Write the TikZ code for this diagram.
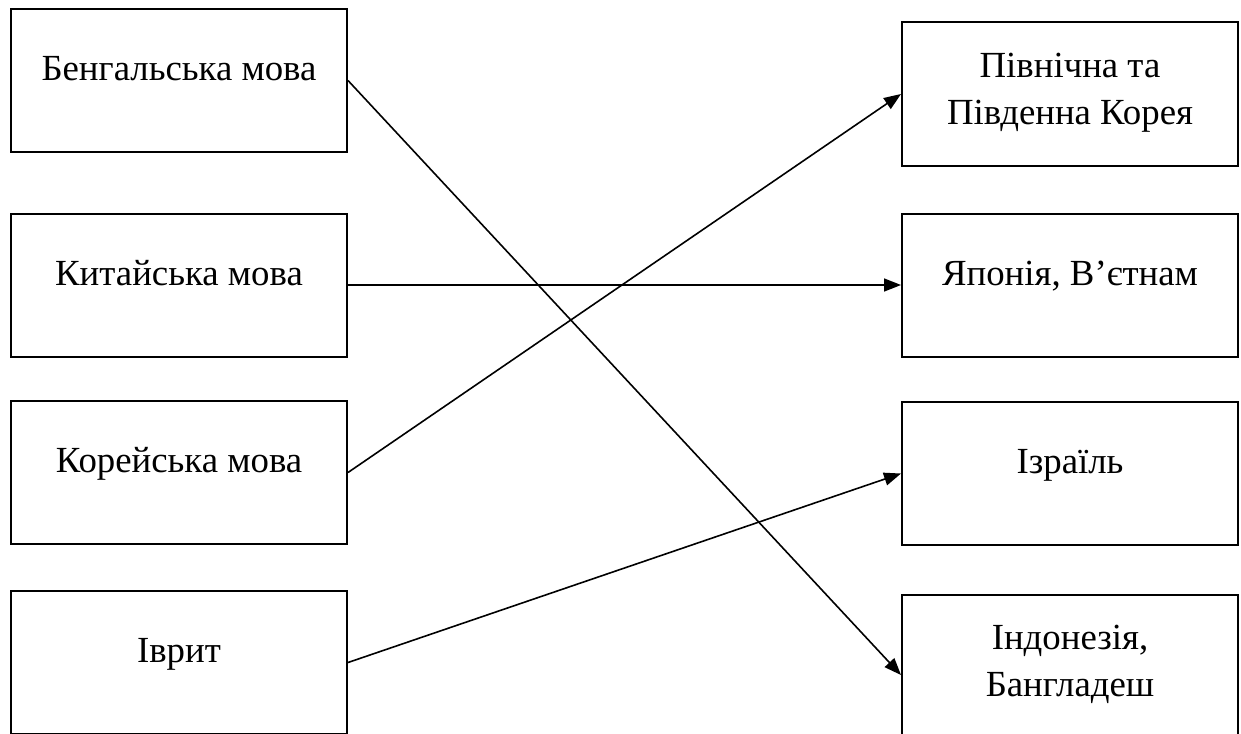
\documentclass[tikz,border=0pt]{standalone}
\usepackage{fontspec}
\setmainfont{Liberation Serif}
\usepackage{tikz}
\usetikzlibrary{arrows.meta,positioning,calc}
\tikzstyle{langbox}=[draw,line width=1pt,minimum width=168pt,minimum height=71.5pt,inner sep=0pt,align=center,
	font=\fontsize{18.4}{23.5}\selectfont]
\tikzstyle{oneline}=[text height=0.7em,text depth=0.7em]
\tikzstyle{twoline}=[execute at end node={\rule[-5pt]{0pt}{0pt}}]
\tikzstyle{link}=[line width=0.8pt,-{Triangle[length=8.5pt,width=6.5pt]}]

\begin{document}
\begin{tikzpicture}[x=0.5pt,y=-0.5pt]
\useasboundingbox (0,0) rectangle (1241,733);
% languages
\node [langbox,oneline] (beng) at (179,80.5) {Бенгальська мова};
\node [langbox,oneline] (chin) at (179,285) {Китайська мова};
\node [langbox,oneline] (kor) at (179,472.5) {Корейська мова};
\node [langbox,oneline] (heb) at (179,662.5) {Іврит};
% countries
\node [langbox,twoline] (korea) at (1070,94) {Північна та\\Південна Корея};
\node [langbox,oneline] (japan) at (1070,285) {Японія, В’єтнам};
\node [langbox,oneline] (isr) at (1070,473.5) {Ізраїль};
\node [langbox,twoline] (indo) at (1070,666) {Індонезія,\\Бангладеш};
% links
\draw [link] (beng.east) -- ([yshift=-4.5pt]indo.west);
\draw [link] (chin.east) -- (japan.west);
\draw [link] (kor.east) -- (korea.west);
\draw [link] (heb.east) -- (isr.west);
\end{tikzpicture}
\end{document}
